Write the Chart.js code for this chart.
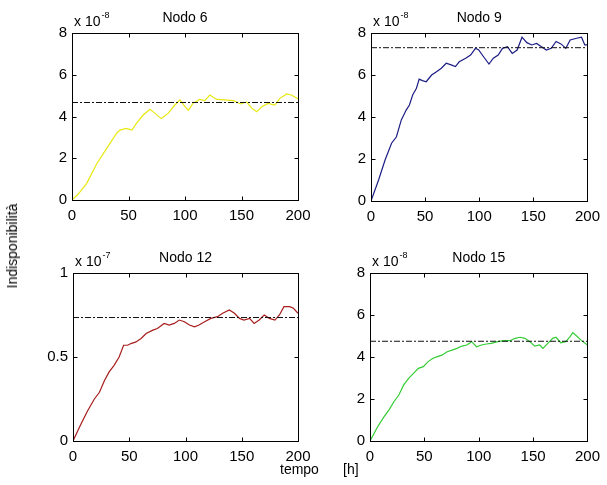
<!DOCTYPE html>
<html>
<head>
<meta charset="utf-8">
<script src="https://cdn.jsdelivr.net/npm/chart.js@4"></script>
<style>
body { margin: 0; background: #fff; }
#wrap { position: relative; width: 607px; height: 485px; }
canvas { position: absolute; left: 0; top: 0; }
.lbl { position: absolute; font-family: "Liberation Sans", Arial, sans-serif; font-size: 14px; line-height: 14px; color: #000; white-space: pre; }
#ylab { left: 12px; top: 246px; transform: translate(-50%, -50%) rotate(-90deg); }
#xlab { left: 280px; top: 462px; }
#xunit { left: 343px; top: 462px; }
</style>
</head>
<body>
<div id="wrap">
  <canvas id="c6" width="607" height="485"></canvas>
  <canvas id="c9" width="607" height="485"></canvas>
  <canvas id="c12" width="607" height="485"></canvas>
  <canvas id="c15" width="607" height="485"></canvas>
  <div class="lbl" id="ylab">Indisponibilità</div>
  <div class="lbl" id="xlab">tempo</div>
  <div class="lbl" id="xunit">[h]</div>
</div>
<script>
// tempo [h] and indisponibilità (x 10^-8, Nodo 12 in x 10^-7)
let t6 = [0,5,13,22,31,39.5,42.5,48,53,57,63,69,73.5,79,85,91,95.5,100,103,107,113,117.5,122,128,135,143,149,154.5,159,163.5,168,173.5,179.5,184,190,194,200];
let nodo6 = [0,0.25,0.8,1.75,2.5,3.2,3.35,3.43,3.35,3.67,4.07,4.35,4.15,3.9,4.15,4.55,4.8,4.47,4.3,4.63,4.82,4.76,5.03,4.82,4.8,4.76,4.6,4.7,4.4,4.23,4.47,4.63,4.55,4.87,5.08,5.03,4.85];

let t9 = [0,7,13,19,23.5,28,32.5,35.5,38.5,42,44.5,47.5,51,56,60.5,65,69.5,74,78,81.5,87.5,92,96.5,99.5,104,109,113,117.5,121.5,126,130.5,135,139.5,144,148.5,153,157.5,162,166.5,171,175.5,180,184,190,194.5,197.5,200];
let nodo9 = [0,1.0,1.95,2.75,3.06,3.86,4.33,4.57,5.05,5.37,5.8,5.73,5.68,6.0,6.16,6.32,6.56,6.48,6.4,6.63,6.8,6.95,7.27,7.19,6.87,6.52,6.8,6.95,7.27,7.35,7.03,7.19,7.8,7.54,7.43,7.5,7.35,7.19,7.27,7.6,7.48,7.27,7.67,7.75,7.8,7.43,7.43];

let t12 = [0,7,13,19,23.5,28,32,36.5,41,45,48.5,51.5,56,60.5,65,71,75,81,85.5,90,94.5,99,103.5,108,112,117,122.5,128.5,133,139,143.5,148,152,157,161,165.5,170,174.5,179.5,183.5,187.5,192.5,196,200];
let nodo12 = [0,0.1,0.18,0.25,0.29,0.36,0.41,0.45,0.5,0.57,0.57,0.58,0.59,0.61,0.64,0.66,0.67,0.70,0.69,0.70,0.72,0.71,0.69,0.68,0.69,0.71,0.73,0.74,0.76,0.78,0.76,0.73,0.72,0.73,0.70,0.72,0.75,0.73,0.72,0.75,0.80,0.80,0.79,0.76];

let t15 = [0,7,13,17.5,22,26.5,31,35.5,40,44.5,49,53.5,58,62,66.5,71,75.5,80,84.5,89,93.5,98,102.5,107,111.5,117.5,123,129,133.5,138,142.5,147,151.5,156,159,163.5,168,171,175.5,180,184,186.5,190,194.5,200];
let nodo15 = [0,0.68,1.16,1.48,1.87,2.19,2.67,2.98,3.22,3.46,3.54,3.78,3.94,4.02,4.1,4.25,4.33,4.41,4.52,4.57,4.73,4.49,4.57,4.62,4.65,4.73,4.78,4.78,4.89,4.94,4.89,4.73,4.52,4.57,4.41,4.65,4.89,4.94,4.68,4.73,4.97,5.16,5.0,4.78,4.57];

// valori teorici (linea tratto-punto)
let refs = [4.67, 7.3, 0.735, 4.75];
let xTicks = [0, 50, 100, 150, 200];

const FONT = '"Liberation Sans", Arial, sans-serif';
const YW = 40, XH = 24;

// box, ticks verso l'interno, titolo e moltiplicatore come in matlab
function makeBox(title, exp) {
  return {
    id: 'matlabBox',
    afterDraw(chart) {
      let ctx = chart.ctx, a = chart.chartArea;
      let xs = chart.scales.x, ys = chart.scales.y;
      ctx.save();
      ctx.strokeStyle = '#000';
      ctx.lineWidth = 1;
      let l = Math.round(a.left) + 0.5, r = Math.round(a.right) + 0.5;
      let tp = Math.round(a.top) + 0.5, b = Math.round(a.bottom) + 0.5;
      ctx.strokeRect(l, tp, r - l, b - tp);
      ctx.beginPath();
      xs.ticks.forEach(t => {
        let px = Math.round(xs.getPixelForValue(t.value)) + 0.5;
        ctx.moveTo(px, b); ctx.lineTo(px, b - 4);
        ctx.moveTo(px, tp); ctx.lineTo(px, tp + 4);
      });
      ys.ticks.forEach(t => {
        let py = Math.round(ys.getPixelForValue(t.value)) + 0.5;
        ctx.moveTo(l, py); ctx.lineTo(l + 4, py);
        ctx.moveTo(r, py); ctx.lineTo(r - 4, py);
      });
      ctx.stroke();
      ctx.fillStyle = '#000';
      ctx.textBaseline = 'alphabetic';
      ctx.font = '14px ' + FONT;
      ctx.textAlign = 'center';
      ctx.fillText(title, (a.left + a.right) / 2, a.top - 11);
      ctx.textAlign = 'left';
      ctx.fillText('x 10', a.left + 2, a.top - 7);
      let w = ctx.measureText('x 10').width;
      ctx.font = '9px ' + FONT;
      ctx.fillText(exp, a.left + 3 + w, a.top - 15);
      ctx.restore();
    }
  };
}

function drawNode(id, box, t, v, ref, color, yMax, yStep, title, exp) {
  let tickFont = { family: FONT, size: 15 };
  new Chart(document.getElementById(id), {
    type: 'line',
    data: {
      datasets: [
        {
          data: [{ x: 0, y: ref }, { x: 200, y: ref }],
          borderColor: '#111',
          borderWidth: 1,
          borderDash: [6, 2, 2, 2],
          pointRadius: 0
        },
        {
          data: t.map((x, i) => ({ x: x, y: v[i] })),
          borderColor: color,
          borderWidth: 1.2,
          pointRadius: 0,
          tension: 0
        }
      ]
    },
    options: {
      responsive: false,
      animation: false,
      events: [],
      layout: { padding: { left: box[0] - YW, top: box[1], right: 607 - box[2], bottom: 485 - box[3] - XH } },
      plugins: { legend: { display: false }, tooltip: { enabled: false } },
      scales: {
        x: {
          type: 'linear', min: 0, max: 200,
          grid: { display: false, drawTicks: false },
          border: { display: false },
          afterBuildTicks: s => { s.ticks = xTicks.map(x => ({ value: x })); },
          ticks: { padding: 7, color: '#000', font: tickFont, maxRotation: 0 },
          afterFit: s => { s.height = XH; }
        },
        y: {
          type: 'linear', min: 0, max: yMax,
          grid: { display: false, drawTicks: false },
          border: { display: false },
          ticks: { stepSize: yStep, padding: 5, color: '#000', font: tickFont, callback: val => String(val) },
          afterFit: s => { s.width = YW; }
        }
      }
    },
    plugins: [makeBox(title, exp)]
  });
}

drawNode('c6', [72, 33, 298, 200], t6, nodo6, refs[0], '#e8e812', 8, 2, 'Nodo 6', '-8');
drawNode('c9', [371, 33, 595, 201], t9, nodo9, refs[1], '#1c1c84', 8, 2, 'Nodo 9', '-8');
drawNode('c12', [73, 273, 298, 441], t12, nodo12, refs[2], '#a81c1c', 1, 0.5, 'Nodo 12', '-7');
drawNode('c15', [370, 273, 594, 441], t15, nodo15, refs[3], '#33cc33', 8, 2, 'Nodo 15', '-8');
</script>
</body>
</html>
